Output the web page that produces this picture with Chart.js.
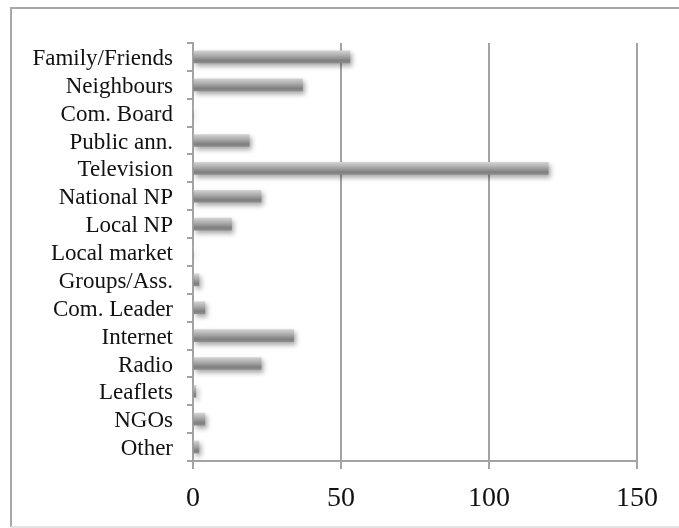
<!DOCTYPE html>
<html>
<head>
<meta charset="utf-8">
<script src="https://cdn.jsdelivr.net/npm/chart.js@4/dist/chart.umd.min.js"></script>
<style>
  html, body { margin: 0; padding: 0; background: #ffffff; }
  #wrap { position: relative; width: 679px; height: 528px; }
</style>
</head>
<body>
<div id="wrap"><canvas id="c" width="679" height="528"></canvas></div>
<script>
// Information sources and number of respondents naming each one
const sources = [
  'Family/Friends', 'Neighbours', 'Com. Board', 'Public ann.', 'Television',
  'National NP', 'Local NP', 'Local market', 'Groups/Ass.', 'Com. Leader',
  'Internet', 'Radio', 'Leaflets', 'NGOs', 'Other'
];
const counts = [53, 37, 0, 19, 120, 23, 13, 0, 2, 4, 34, 23, 1, 4, 2];
const xTicks = [0, 50, 100, 150];

const GRID = '#a3a3a3';
const SERIF = '"Liberation Serif", "DejaVu Serif", serif';

// Cylinder-like shading across each bar's thickness
function barShade(ctx) {
  const chart = ctx.chart;
  const y = chart.scales && chart.scales.y;
  if (!y || ctx.dataIndex === undefined) return '#999999';
  const c = y.getPixelForValue(ctx.dataIndex);
  if (!isFinite(c)) return '#999999';
  const half = 6;
  const g = chart.ctx.createLinearGradient(0, c - half, 0, c + half);
  g.addColorStop(0, '#d2d2d2');
  g.addColorStop(0.4, '#ababab');
  g.addColorStop(0.8, '#7f7f7f');
  g.addColorStop(1, '#8c8c8c');
  return g;
}

// Soft drop shadow under the bars
const barShadow = {
  id: 'barShadow',
  beforeDatasetsDraw(chart) {
    const ctx = chart.ctx;
    ctx.save();
    ctx.shadowColor = 'rgba(0,0,0,0.35)';
    ctx.shadowBlur = 5;
    ctx.shadowOffsetX = 2;
    ctx.shadowOffsetY = 3;
  },
  afterDatasetsDraw(chart) {
    chart.ctx.restore();
  }
};

// Frame around the whole chart
const frame = {
  id: 'frame',
  afterDraw(chart) {
    const ctx = chart.ctx;
    ctx.save();
    ctx.lineWidth = 2;
    ctx.strokeStyle = '#a8a8a8';
    ctx.beginPath();
    ctx.moveTo(11, 527);
    ctx.lineTo(11, 8);
    ctx.lineTo(chart.width, 8);
    ctx.stroke();
    ctx.strokeStyle = '#e2e2e2';
    ctx.beginPath();
    ctx.moveTo(11, 527);
    ctx.lineTo(chart.width, 527);
    ctx.stroke();
    ctx.restore();
  }
};

new Chart(document.getElementById('c'), {
  type: 'bar',
  data: {
    labels: sources,
    datasets: [{
      data: counts,
      backgroundColor: barShade,
      borderWidth: 0,
      barThickness: 12
    }]
  },
  options: {
    indexAxis: 'y',
    responsive: false,
    animation: false,
    layout: { padding: { left: 11, top: 43, right: 42, bottom: 0 } },
    plugins: { legend: { display: false }, tooltip: { enabled: false } },
    scales: {
      x: {
        min: 0,
        max: 150,
        afterBuildTicks(scale) { scale.ticks = xTicks.map(v => ({ value: v })); },
        afterFit(scale) { scale.height = 67; },
        grid: { color: GRID, lineWidth: 2, tickLength: 8, tickColor: GRID },
        border: { color: GRID, width: 2 },
        ticks: { color: '#111111', padding: 13, font: { family: SERIF, size: 28 } }
      },
      y: {
        afterFit(scale) { scale.width = 182; },
        grid: { drawOnChartArea: false, tickLength: 6, tickColor: GRID, lineWidth: 2, offset: true },
        border: { color: GRID, width: 2 },
        ticks: { color: '#111111', padding: 14, labelOffset: 2, autoSkip: false, font: { family: SERIF, size: 23 } }
      }
    }
  },
  plugins: [barShadow, frame]
});
</script>
</body>
</html>
